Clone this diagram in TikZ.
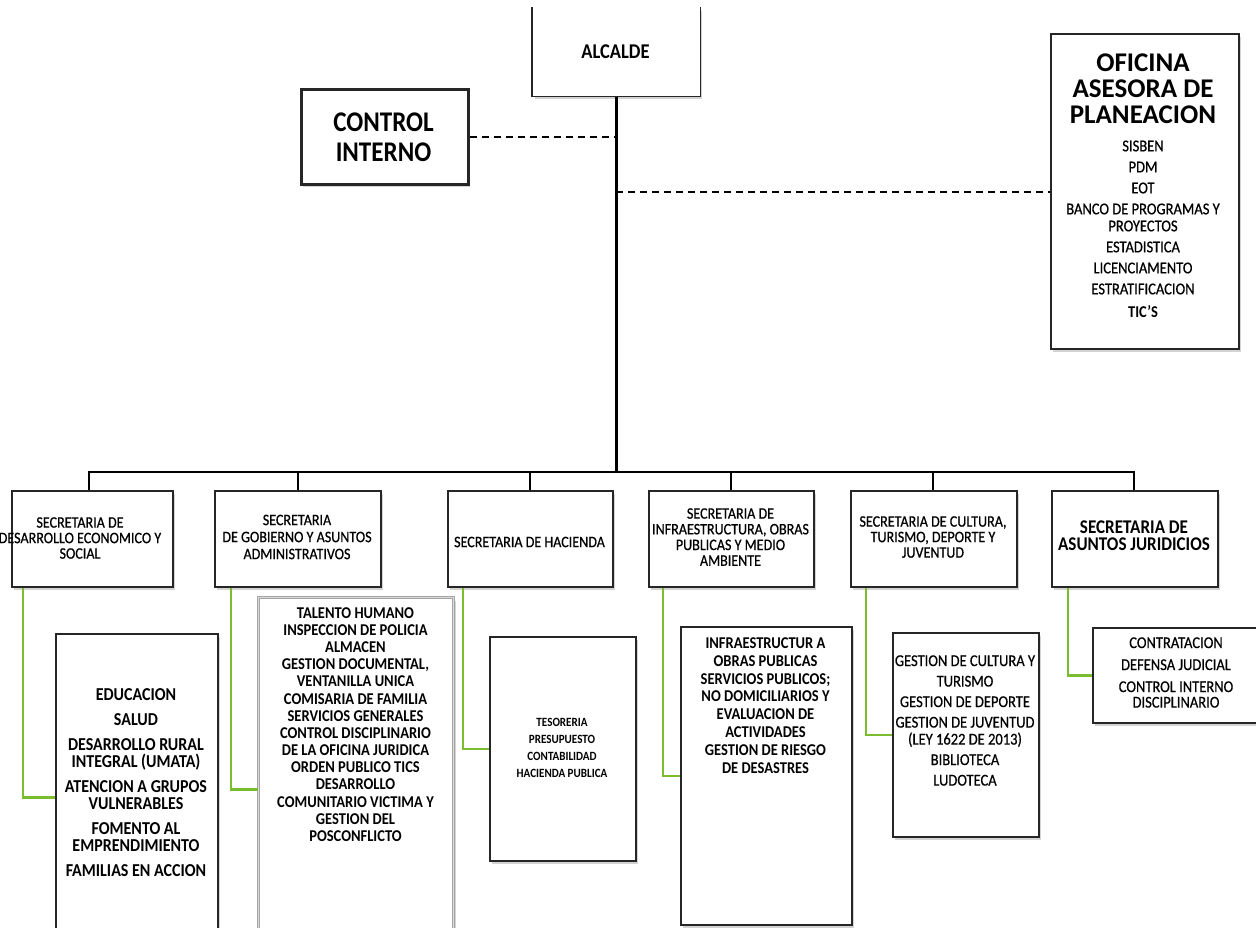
\documentclass[tikz,border=0pt]{standalone}
\usepackage{fontspec}
\setmainfont{Carlito}[FakeStretch=0.88, UprightFeatures={FakeBold=0.6}]
\newfontfamily\titlefont{Carlito}
\usetikzlibrary{shadows,calc}
\definecolor{lgreen}{RGB}{122,190,48}
\newcommand{\fs}[2]{\fontsize{#1}{#2}\selectfont}
\begin{document}
\begin{tikzpicture}[x=1pt,y=-1pt,
  box/.style={draw=black!85, line width=1.6pt, fill=white, inner sep=0pt, anchor=north west,
    drop shadow={shadow xshift=2pt, shadow yshift=-3pt, opacity=0.35}},
  conn/.style={line width=2.6pt, draw=black},
  gl/.style={line width=2.4pt, draw=lgreen},
  dl/.style={line width=2pt, draw=black, dash pattern=on 7pt off 5pt},
  txt/.style={align=center, inner sep=0pt, text=black}]
\useasboundingbox (0,0) rectangle (1256,927);
\clip (0,0) rectangle (1256,927);

% connector points
\coordinate (b1) at (89,472);
\coordinate (b2) at (298,472);
\coordinate (b3) at (530,472);
\coordinate (b4) at (731,472);
\coordinate (b5) at (933,472);
\coordinate (b6) at (1134,472);
\coordinate (d2) at (616,192);

% boxes
\node[box, draw=none, minimum width=167pt, minimum height=88pt] (alc) at (532,7) {};
\draw[black!85, line width=1.6pt] (alc.north west) -- (alc.south west) -- (alc.south east) -- (alc.north east);
\node[box, line width=2.6pt, minimum width=167pt, minimum height=95pt] (ci) at (300,88) {};
\node[box, line width=2.2pt, minimum width=188pt, minimum height=315pt] (of) at (1050,33) {};

\node[box, minimum width=161pt, minimum height=96pt] (s1) at (11,490) {};
\node[box, minimum width=166pt, minimum height=96pt] (s2) at (214,490) {};
\node[box, minimum width=165pt, minimum height=96pt] (s3) at (447,490) {};
\node[box, minimum width=165pt, minimum height=96pt] (s4) at (648,490) {};
\node[box, minimum width=166pt, minimum height=96pt] (s5) at (850,490) {};
\node[box, minimum width=166pt, minimum height=96pt] (s6) at (1051,490) {};

\node[box, minimum width=162pt, minimum height=327pt] (c1) at (55,633) {};
\node[box, draw=gray!70, line width=1.3pt, double=gray!30, double distance=1pt, minimum width=195pt, minimum height=384pt] (c2) at (258,597) {};
\node[box, minimum width=146pt, minimum height=224pt] (c3) at (489,636) {};
\node[box, minimum width=171pt, minimum height=298pt] (c4) at (680,626) {};
\node[box, minimum width=146pt, minimum height=204pt] (c5) at (892,632) {};
\node[box, minimum width=168pt, minimum height=95pt] (c6) at (1092,627) {};

% black tree
\draw[conn] (alc.south) -- (alc.south |- b1);
\draw[conn] (b1 |- s1.north) -- (b1) -- (b6) -- (b6 |- s6.north);
\draw[conn] (b2) -- (b2 |- s2.north);
\draw[conn] (b3) -- (b3 |- s3.north);
\draw[conn] (b4) -- (b4 |- s4.north);
\draw[conn] (b5) -- (b5 |- s5.north);
% dashed
\draw[dl] (ci.east) -- (ci.east -| alc.south);
\draw[dl] (d2) -- (d2 -| of.west);
% green
\draw[gl] ([xshift=12pt]s1.south west) |- (c1.west);
\draw[gl] ([xshift=17pt]s2.south west) |- (c2.west);
\draw[gl] ([xshift=16pt]s3.south west) |- (c3.west);
\draw[gl] ([xshift=15pt]s4.south west) |- (c4.west);
\draw[gl] ([xshift=16pt]s5.south west) |- (c5.west);
\draw[gl] ([xshift=17pt]s6.south west) |- (c6.west);

% texts
\node[txt, font=\fs{21}{20}\bfseries] (talc) at (615.5,52) {ALCALDE};
\node[txt, font=\fs{28.5}{30}\bfseries] (tci) at (383.5,137) {CONTROL\\INTERNO};
\node[txt, font=\titlefont\fs{27}{26}\bfseries] (toft) at (1143,89) {OFICINA\\ASESORA DE\\PLANEACION};
\node[txt, font=\fs{16.5}{17}] (tofi) at (1143,229) {SISBEN\\[4pt]PDM\\[4pt]EOT\\[4pt]BANCO DE PROGRAMAS Y\\PROYECTOS\\[4pt]ESTADISTICA\\[4pt]LICENCIAMENTO\\[4pt]ESTRATIFICACION\\[6pt]\textbf{TIC'S}};

\node[txt, font=\fs{16}{15.5}] (ts1) at (80,538) {SECRETARIA DE\\DESARROLLO ECONOMICO Y\\SOCIAL};
\node[txt, font=\fs{16}{17}] (ts2) at (297,537) {SECRETARIA\\DE GOBIERNO Y ASUNTOS\\ADMINISTRATIVOS};
\node[txt, font=\fs{16}{15.5}] (ts3) at (529.5,542) {SECRETARIA DE HACIENDA};
\node[txt, font=\fs{16}{15.7}] (ts4) at (730.5,537) {SECRETARIA DE\\INFRAESTRUCTURA, OBRAS\\PUBLICAS Y MEDIO\\AMBIENTE};
\node[txt, font=\fs{16}{15.5}] (ts5) at (933,537) {SECRETARIA DE CULTURA,\\TURISMO, DEPORTE Y\\JUVENTUD};
\node[txt, font=\fs{19.4}{17}\bfseries] (ts6) at (1134,536) {SECRETARIA DE\\ASUNTOS JURIDICIOS};

\node[txt, font=\fs{18.2}{17}\bfseries] (tc1) at (136,783) {EDUCACION\\[8pt]SALUD\\[8pt]DESARROLLO  RURAL\\INTEGRAL (UMATA)\\[8pt]ATENCION A GRUPOS\\VULNERABLES\\[8pt]FOMENTO AL\\EMPRENDIMIENTO\\[8pt]FAMILIAS EN ACCION};
\node[txt, font=\fs{16.5}{17.15}\bfseries] (tc2) at (355.5,724.5) {TALENTO HUMANO\\INSPECCION DE POLICIA\\ALMACEN\\GESTION DOCUMENTAL,\\VENTANILLA UNICA\\COMISARIA DE FAMILIA\\SERVICIOS GENERALES\\CONTROL DISCIPLINARIO\\DE LA OFICINA JURIDICA\\ORDEN PUBLICO TICS\\DESARROLLO\\COMUNITARIO VICTIMA Y\\GESTION DEL\\POSCONFLICTO};
\node[txt, font=\fs{12.6}{17}\bfseries] (tc3) at (562,747.5) {TESORERIA\\PRESUPUESTO\\CONTABILIDAD\\HACIENDA PUBLICA};
\node[txt, font=\fs{16.5}{17.9}\bfseries] (tc4) at (765.5,705.5) {INFRAESTRUCTUR A\\OBRAS PUBLICAS\\SERVICIOS PUBLICOS;\\NO DOMICILIARIOS Y\\EVALUACION DE\\ACTIVIDADES\\GESTION DE RIESGO\\DE DESASTRES};
\node[txt, font=\fs{16.5}{17}] (tc5) at (965,720.5) {GESTION DE CULTURA Y\\[3.5pt]TURISMO\\[3.5pt]GESTION DE DEPORTE\\[3.5pt]GESTION DE JUVENTUD\\(LEY 1622 DE 2013)\\[3.5pt]BIBLIOTECA\\[3.5pt]LUDOTECA};
\node[txt, font=\fs{16.5}{15.5}] (tc6) at (1176,672.5) {CONTRATACION\\[6.5pt]DEFENSA JUDICIAL\\[6.5pt]CONTROL INTERNO\\DISCIPLINARIO};
\end{tikzpicture}
\end{document}
